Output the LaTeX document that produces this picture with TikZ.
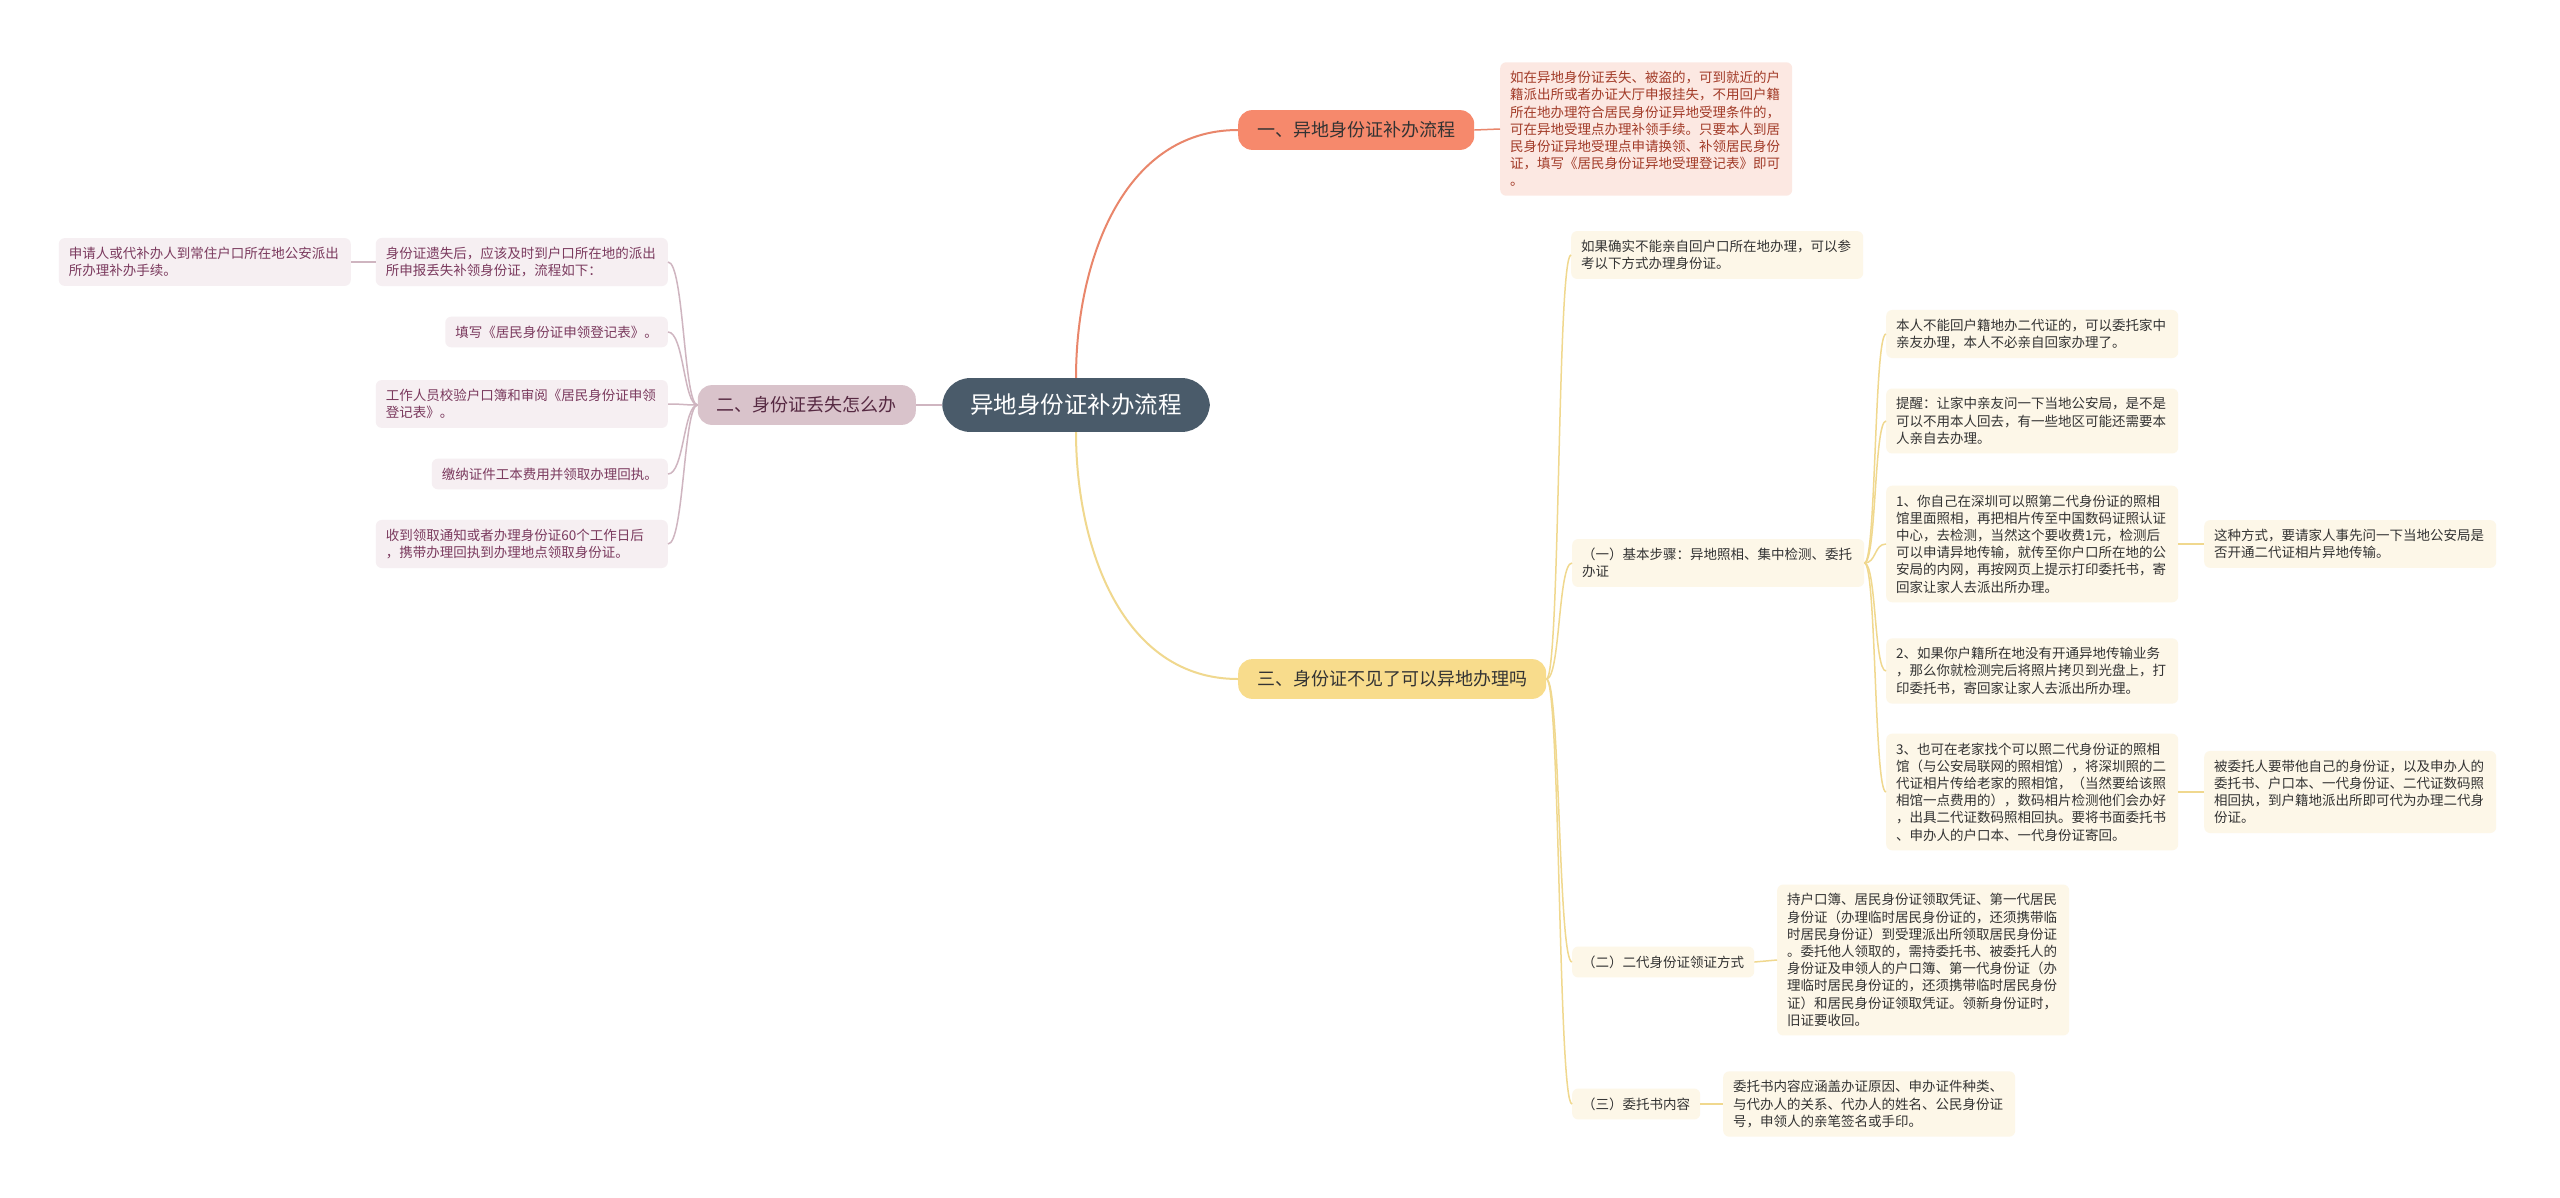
\documentclass[tikz,border=0pt]{standalone}
\usepackage{fontspec}
\newfontfamily\cjk{Noto Sans CJK SC}
\usepackage{tikz}
\usepackage{xcolor}
\definecolor{rootbg}{HTML}{4A5B6A}
\definecolor{orangebg}{HTML}{F6896C}
\definecolor{orangeln}{HTML}{E9866B}
\definecolor{orangelf}{HTML}{FCE8E2}
\definecolor{orangetx}{HTML}{A23B28}
\definecolor{mauvebg}{HTML}{D9C3CB}
\definecolor{mauveln}{HTML}{CFB5C0}
\definecolor{mauvelf}{HTML}{F6EFF2}
\definecolor{mauvetx}{HTML}{7B3A5E}
\definecolor{yellowbg}{HTML}{F8DC8C}
\definecolor{yellowln}{HTML}{F0D88E}
\definecolor{yellowlf}{HTML}{FDF7E8}
\tikzstyle{main} = [rectangle, rounded corners=28pt, fill=rootbg, text=white, inner xsep=28pt, inner ysep=16pt, font=\cjk\fontsize{23.5}{28}\selectfont]
\tikzstyle{branch} = [rectangle, rounded corners=14pt, inner xsep=19pt, inner ysep=11.5pt, font=\cjk\fontsize{18}{22}\selectfont]
\tikzstyle{leaf} = [rectangle, rounded corners=6pt, align=left, inner xsep=10pt, inner ysep=9pt, font=\cjk\fontsize{13.5}{17.2}\selectfont]
\tikzstyle{wide} = [text width=272pt]
\tikzstyle{pinkleaf} = [leaf, fill=mauvelf, text=mauvetx]
\tikzstyle{sandleaf} = [leaf, fill=yellowlf, text=black!80]
\tikzstyle{link} = [line width=1.5pt]

\begin{document}
\begin{tikzpicture}[x=1pt, y=1pt]
  \useasboundingbox[fill=white] (0,0) rectangle (2560,-1197);

  \node (root) [main] at (1076,-405) {异地身份证补办流程};

  % first branch
  \node (flow) [branch, fill=orangebg, text=black!80, anchor=west] at (1238,-130) {一、异地身份证补办流程};
  \node (flowtxt) [leaf, wide, fill=orangelf, text=orangetx, anchor=west] at (1500,-129) {如在异地身份证丢失、被盗的，可到就近的户\\籍派出所或者办证大厅申报挂失，不用回户籍\\所在地办理符合居民身份证异地受理条件的，\\可在异地受理点办理补领手续。只要本人到居\\民身份证异地受理点申请换领、补领居民身份\\证，填写《居民身份证异地受理登记表》即可\\。};

  % second branch
  \node (lost) [branch, fill=mauvebg, text=mauvetx!70!black, anchor=east] at (916,-405) {二、身份证丢失怎么办};
  \node (report) [pinkleaf, wide, anchor=east] at (668,-262) {身份证遗失后，应该及时到户口所在地的派出\\所申报丢失补领身份证，流程如下：};
  \node (apply) [pinkleaf, wide, anchor=east] at (351,-262) {申请人或代补办人到常住户口所在地公安派出\\所办理补办手续。};
  \node (form) [pinkleaf, anchor=east] at (668,-332) {填写《居民身份证申领登记表》。};
  \node (check) [pinkleaf, wide, anchor=east] at (668,-404) {工作人员校验户口簿和审阅《居民身份证申领\\登记表》。};
  \node (fee) [pinkleaf, anchor=east] at (668,-474) {缴纳证件工本费用并领取办理回执。};
  \node (collect) [pinkleaf, wide, anchor=east] at (668,-544) {收到领取通知或者办理身份证60个工作日后\\，携带办理回执到办理地点领取身份证。};

  % third branch
  \node (remote) [branch, fill=yellowbg, text=black!80, anchor=west] at (1238,-679) {三、身份证不见了可以异地办理吗};
  \node (intro) [sandleaf, wide, anchor=west] at (1571,-255) {如果确实不能亲自回户口所在地办理，可以参\\考以下方式办理身份证。};
  \node (steps) [sandleaf, wide, anchor=west] at (1572,-563) {（一）基本步骤：异地照相、集中检测、委托\\办证};
  \node (entrust) [sandleaf, wide, anchor=west] at (1886,-334) {本人不能回户籍地办二代证的，可以委托家中\\亲友办理，本人不必亲自回家办理了。};
  \node (remind) [sandleaf, wide, anchor=west] at (1886,-421) {提醒：让家中亲友问一下当地公安局，是不是\\可以不用本人回去，有一些地区可能还需要本\\人亲自去办理。};
  \node (photo) [sandleaf, wide, anchor=west] at (1886,-544) {1、你自己在深圳可以照第二代身份证的照相\\馆里面照相，再把相片传至中国数码证照认证\\中心，去检测，当然这个要收费1元，检测后\\可以申请异地传输，就传至你户口所在地的公\\安局的内网，再按网页上提示打印委托书，寄\\回家让家人去派出所办理。};
  \node (photonote) [sandleaf, wide, anchor=west] at (2204,-544) {这种方式，要请家人事先问一下当地公安局是\\否开通二代证相片异地传输。};
  \node (disc) [sandleaf, wide, anchor=west] at (1886,-671) {2、如果你户籍所在地没有开通异地传输业务\\，那么你就检测完后将照片拷贝到光盘上，打\\印委托书，寄回家让家人去派出所办理。};
  \node (home) [sandleaf, wide, anchor=west] at (1886,-792) {3、也可在老家找个可以照二代身份证的照相\\馆（与公安局联网的照相馆），将深圳照的二\\代证相片传给老家的照相馆，（当然要给该照\\相馆一点费用的），数码相片检测他们会办好\\，出具二代证数码照相回执。要将书面委托书\\、申办人的户口本、一代身份证寄回。};
  \node (homenote) [sandleaf, wide, anchor=west] at (2204,-792) {被委托人要带他自己的身份证，以及申办人的\\委托书、户口本、一代身份证、二代证数码照\\相回执，到户籍地派出所即可代为办理二代身\\份证。};
  \node (pickup) [sandleaf, anchor=west] at (1572,-962) {（二）二代身份证领证方式};
  \node (pickuptxt) [sandleaf, wide, anchor=west] at (1777,-960) {持户口簿、居民身份证领取凭证、第一代居民\\身份证（办理临时居民身份证的，还须携带临\\时居民身份证）到受理派出所领取居民身份证\\。委托他人领取的，需持委托书、被委托人的\\身份证及申领人的户口簿、第一代身份证（办\\理临时居民身份证的，还须携带临时居民身份\\证）和居民身份证领取凭证。领新身份证时，\\旧证要收回。};
  \node (letter) [sandleaf, anchor=west] at (1572,-1104) {（三）委托书内容};
  \node (lettertxt) [sandleaf, wide, anchor=west] at (1723,-1104) {委托书内容应涵盖办证原因、申办证件种类、\\与代办人的关系、代办人的姓名、公民身份证\\号，申领人的亲笔签名或手印。};

  % connectors
  \draw[orangeln, line width=2pt] (root.north) to[out=90, in=180] (flow.west);
  \draw[orangeln, link] (flow.east) -- (flowtxt.west);

  \draw[mauveln, line width=2pt] (root.west) -- (lost.east);
  \foreach \n in {report, form, check, fee, collect}
    \draw[mauveln, link] (lost.west) .. controls +(-14,0) and +(16,0) .. (\n.east);
  \draw[mauveln, link] (report.west) -- (apply.east);

  \draw[yellowln, line width=2pt] (root.south) to[out=-90, in=180] (remote.west);
  \foreach \n in {intro, steps, pickup, letter}
    \draw[yellowln, link] (remote.east) .. controls +(14,0) and +(-14,0) .. (\n.west);
  \foreach \n in {entrust, remind, photo, disc, home}
    \draw[yellowln, link] (steps.east) .. controls +(12,0) and +(-12,0) .. (\n.west);
  \draw[yellowln, link] (photo.east) -- (photonote.west);
  \draw[yellowln, link] (home.east) -- (homenote.west);
  \draw[yellowln, link] (pickup.east) -- (pickuptxt.west);
  \draw[yellowln, link] (letter.east) -- (lettertxt.west);
\end{tikzpicture}
\end{document}
